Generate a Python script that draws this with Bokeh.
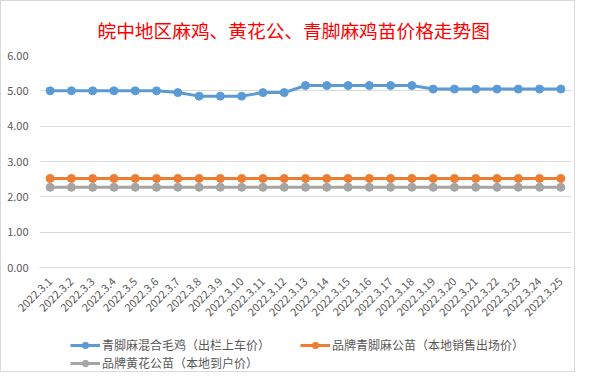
import math
from bokeh.plotting import figure
from bokeh.layouts import column
from bokeh.models import FactorRange, Range1d, Legend, LegendItem, FixedTicker, NumeralTickFormatter
from bokeh.embed import file_html
from bokeh.resources import INLINE

dates = ["2022.3.%d" % d for d in range(1, 26)]
blue_vals = [5.00, 5.00, 5.00, 5.00, 5.00, 5.00, 4.95, 4.85, 4.85, 4.85, 4.95, 4.95,
             5.15, 5.15, 5.15, 5.15, 5.15, 5.15, 5.05, 5.05, 5.05, 5.05, 5.05, 5.05, 5.05]
orange_vals = [2.52] * 25
gray_vals = [2.27] * 25
series_names = ["青脚麻混合毛鸡（出栏上车价）", "品牌青脚麻公苗（本地销售出场价）", "品牌黄花公苗（本地到户价）"]
colors = ["#5B9BD5", "#ED7D31", "#A5A5A5"]
y_ticks = [0, 1, 2, 3, 4, 5, 6]

FONT = "Noto Sans CJK SC"

p = figure(width=573, height=321, x_range=FactorRange(factors=dates, range_padding=0),
           y_range=Range1d(0, 6), output_backend="svg", toolbar_location=None,
           min_border_left=38, min_border_right=3, min_border_top=53, min_border_bottom=51)
p.title.text = "皖中地区麻鸡、黄花公、青脚麻鸡苗价格走势图"
p.title.text_color = "#FF0000"
p.title.text_font = FONT
p.title.text_font_size = "18.7px"
p.title.text_font_style = "normal"
p.title.align = "left"
p.title.offset = 58
p.title.standoff = 25

p.outline_line_color = None
p.xgrid.grid_line_color = None
p.ygrid.grid_line_color = "#d9d9d9"
p.ygrid.grid_line_width = 1

p.yaxis.ticker = FixedTicker(ticks=y_ticks)
p.yaxis.formatter = NumeralTickFormatter(format="0.00")
p.yaxis.axis_line_color = None
p.yaxis.major_tick_line_color = None
p.yaxis.minor_tick_line_color = None
p.yaxis.major_label_text_color = "#595959"
p.yaxis.major_label_text_font = FONT
p.yaxis.major_label_text_font_size = "11px"
p.yaxis.major_label_standoff = 5

p.xaxis.axis_line_color = "#d9d9d9"
p.xaxis.major_tick_line_color = None
p.xaxis.minor_tick_line_color = None
p.xaxis.major_label_orientation = math.pi / 4
p.xaxis.major_label_text_color = "#595959"
p.xaxis.major_label_text_font = FONT
p.xaxis.major_label_text_font_size = "11px"
p.xaxis.major_label_standoff = 6

for vals, c in zip([blue_vals, orange_vals, gray_vals], colors):
    p.line(dates, vals, line_color=c, line_width=3)
    p.scatter(dates, vals, size=8, fill_color=c, line_color=c)

# legend strip below the chart
lf = figure(width=573, height=49, x_range=Range1d(0, 1), y_range=Range1d(0, 1),
            x_axis_type=None, y_axis_type=None, output_backend="svg", toolbar_location=None,
            min_border=0)
lf.outline_line_color = None
lf.grid.visible = False
items = []
for name, c in zip(series_names, colors):
    r1 = lf.line([float("nan")], [float("nan")], line_color=c, line_width=3)
    r2 = lf.scatter([float("nan")], [float("nan")], size=8, fill_color=c, line_color=c)
    items.append(LegendItem(label=name, renderers=[r1, r2]))


def make_legend(its, loc):
    lg = Legend(items=its, orientation="horizontal", location=loc)
    lg.border_line_color = None
    lg.background_fill_alpha = 0
    lg.label_text_font = FONT
    lg.label_text_font_size = "12px"
    lg.label_text_color = "#595959"
    lg.glyph_width = 30
    lg.glyph_height = 16
    lg.label_height = 16
    lg.spacing = 30
    lg.padding = 0
    lg.margin = 0
    lg.label_standoff = 2
    return lg


lf.add_layout(make_legend(items[:2], (31, 18)), "center")
lf.add_layout(make_legend(items[2:], (31, 0)), "center")

layout = column(p, lf, spacing=0, styles={"border": "1px solid #d9d9d9"})

open("out.html", "w").write(file_html(layout, INLINE))
